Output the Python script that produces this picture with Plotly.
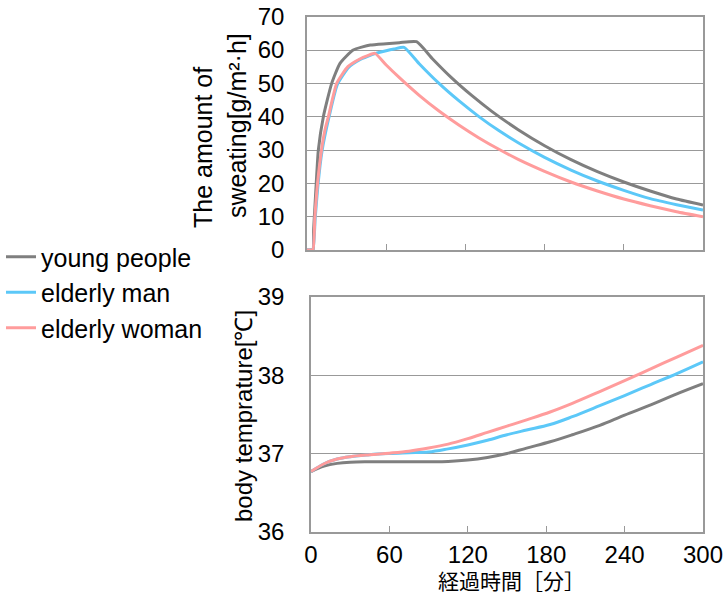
import plotly.graph_objects as go

# ---------------- data ----------------
series_names = ["young people", "elderly man", "elderly woman"]
series_colors = ["#7F7F7F", "#5CC8F8", "#FF9C9C"]

# sweating amount [g/m2·h] vs elapsed minutes
sweat_t_young = [0, 3, 4.5, 5, 6, 7, 8.6, 12.4, 18.7, 25, 35, 48, 60, 70, 83,
                 95, 110, 125, 140, 160, 180, 200, 220, 240, 260, 280, 300]
sweat_young = [0, 0, 0, 6, 13, 20, 30, 40, 50, 56, 60, 61.5, 61.9, 62.2, 62.5,
               57.4, 51.5, 46.3, 41.6, 36.1, 31.3, 27.1, 23.5, 20.4, 17.7, 15.3, 13.5]

sweat_t_man = [0, 3, 4.5, 6.2, 8.3, 11.3, 16.5, 23, 31.5, 40, 46, 51.5, 60, 66, 73.5,
               85, 100, 115, 130, 145, 160, 180, 200, 220, 240, 260, 280, 300]
sweat_man = [0, 0, 0, 9.5, 19.5, 29.5, 39.6, 49.7, 54.8, 57.1, 58.1, 58.9, 59.8, 60.3, 60.8,
             55.9, 50.0, 44.8, 40.1, 35.9, 32.2, 27.8, 24.0, 20.7, 17.9, 15.4, 13.6, 12.0]

sweat_t_woman = [0, 3, 4.5, 6, 8, 11, 13.6, 16.2, 22.5, 31, 40, 46, 51.5,
                 60, 70, 85, 100, 115, 130, 145, 160, 180, 200, 220, 240, 260, 280, 300]
sweat_woman = [0, 0, 0, 10, 20, 30, 36, 40, 50, 55, 57.3, 58.3, 59,
               55.5, 51.7, 46.4, 41.7, 37.5, 33.7, 30.3, 27.2, 23.6, 20.4, 17.7, 15.3, 13.3, 11.5, 10.0]

# body temperature [°C] vs elapsed minutes
temp_t = [0, 10, 20, 30, 45, 60, 75, 90, 105, 120, 135, 150, 165, 183, 200, 221, 240, 260, 280, 300]
temp_young = [36.77, 36.84, 36.875, 36.89, 36.895, 36.897, 36.897, 36.897, 36.90, 36.917,
              36.95, 37.00, 37.07, 37.15, 37.24, 37.36, 37.49, 37.62, 37.76, 37.89]
temp_man = [36.77, 36.87, 36.93, 36.96, 36.985, 37.0, 37.01, 37.02, 37.06, 37.11,
            37.17, 37.24, 37.30, 37.37, 37.47, 37.61, 37.74, 37.88, 38.02, 38.17]
temp_woman = [36.77, 36.87, 36.93, 36.96, 36.985, 37.005, 37.03, 37.07, 37.12, 37.19,
              37.27, 37.35, 37.43, 37.53, 37.64, 37.79, 37.93, 38.08, 38.23, 38.38]

x_ticks = [0, 60, 120, 180, 240, 300]
sweat_ticks = [0, 10, 20, 30, 40, 50, 60, 70]
temp_ticks = [36, 37, 38, 39]

x_title = "経過時間［分］"
sweat_title_lines = ["The amount of", "sweating[g/m²·h]"]
temp_title = "body temprature[℃]"

# ---------------- figure ----------------
W, H = 724, 594
FONT = "Liberation Sans, Arial, sans-serif"
AX = "#999999"

fig = go.Figure()

sweat_sets = [(sweat_t_young, sweat_young), (sweat_t_man, sweat_man), (sweat_t_woman, sweat_woman)]
for (tx, ty), name, col in zip(sweat_sets, series_names, series_colors):
    fig.add_trace(go.Scatter(x=tx, y=ty, mode="lines", name=name,
                             line=dict(color=col, width=3, shape="spline", smoothing=0.5),
                             xaxis="x", yaxis="y"))

for ty, name, col in zip([temp_young, temp_man, temp_woman], series_names, series_colors):
    fig.add_trace(go.Scatter(x=temp_t, y=ty, mode="lines", name=name, showlegend=False,
                             line=dict(color=col, width=3, shape="spline", smoothing=1),
                             xaxis="x2", yaxis="y2"))

def px_x(p):
    return p / W

def px_y(p):
    return 1 - p / H

common_axis = dict(showline=True, linecolor=AX, linewidth=1.5, mirror=True,
                   zeroline=False, automargin=False, ticklabeloverflow="allow",
                   tickfont=dict(family=FONT, size=24, color="#000"))

fig.update_layout(
    width=W, height=H,
    margin=dict(l=0, r=0, t=0, b=0, autoexpand=False),
    paper_bgcolor="white", plot_bgcolor="white",
    font=dict(family=FONT, size=24, color="#000"),
    xaxis=dict(domain=[px_x(307), px_x(703)], range=[0, 300], tickvals=x_ticks,
               showticklabels=False, ticks="inside", ticklen=6, tickcolor=AX,
               showgrid=False, anchor="y", **common_axis),
    yaxis=dict(domain=[px_y(250), px_y(16.7)], range=[0, 70], tickvals=sweat_ticks,
               showgrid=True, gridcolor=AX, gridwidth=1, ticks="",
               ticklabelstandoff=16, anchor="x", **common_axis),
    xaxis2=dict(domain=[px_x(311), px_x(703)], range=[0, 300], tickvals=x_ticks,
                ticks="inside", ticklen=6, tickcolor=AX, showgrid=False, anchor="y2",
                **common_axis),
    yaxis2=dict(domain=[px_y(532), px_y(296.7)], range=[36, 39], tickvals=temp_ticks,
                showgrid=True, gridcolor=AX, gridwidth=1, ticks="",
                ticklabelstandoff=20, anchor="x2", **common_axis),
    legend=dict(x=1 / W, y=1 - 234 / H,
                xanchor="left", yanchor="top", bgcolor="rgba(0,0,0,0)",
                font=dict(family=FONT, size=25, color="#000"), itemwidth=30,
                tracegroupgap=0),
    showlegend=True,
)

annotations = [
    dict(text=x_title, x=px_x(511), y=px_y(580), xref="paper", yref="paper",
         showarrow=False, font=dict(family="Noto Sans CJK JP", size=21, color="#000"),
         xanchor="center", yanchor="middle"),
    dict(text=sweat_title_lines[0], x=px_x(203), y=px_y(147), xref="paper", yref="paper",
         showarrow=False, textangle=-90, font=dict(family=FONT, size=25, color="#000"),
         xanchor="center", yanchor="middle"),
    dict(text=sweat_title_lines[1], x=px_x(237), y=px_y(126), xref="paper", yref="paper",
         showarrow=False, textangle=-90, font=dict(family=FONT, size=25, color="#000"),
         xanchor="center", yanchor="middle"),
    dict(text=temp_title, x=px_x(243), y=px_y(416), xref="paper", yref="paper",
         showarrow=False, textangle=-90, font=dict(family=FONT, size=24, color="#000"),
         xanchor="center", yanchor="middle"),
]
fig.update_layout(annotations=annotations)

fig.write_html("out.html")
